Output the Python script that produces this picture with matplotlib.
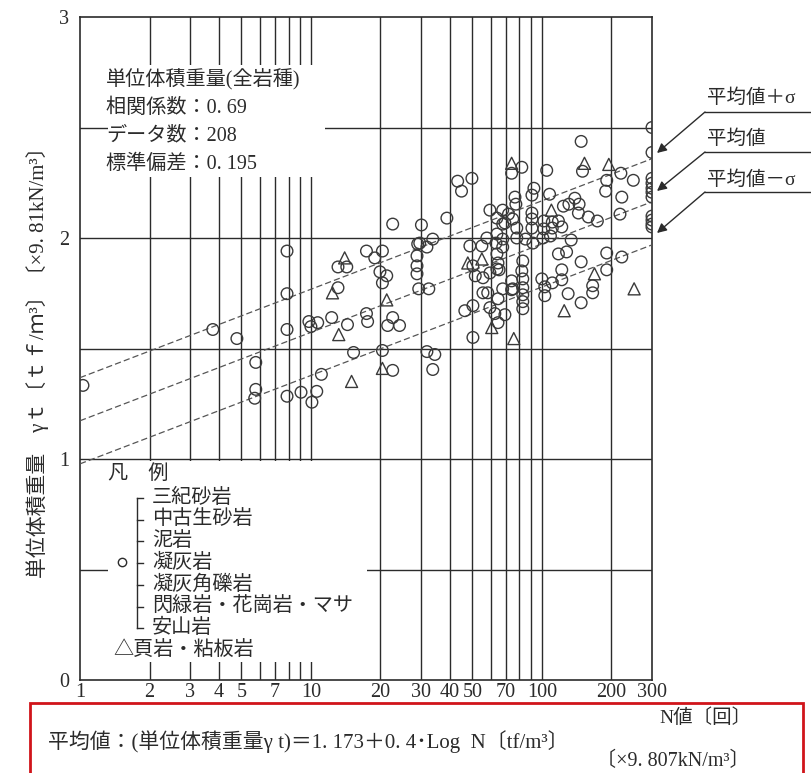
import numpy as np
import matplotlib
matplotlib.use('Agg')
import matplotlib.pyplot as plt
from matplotlib.lines import Line2D
from matplotlib.patches import Rectangle
from matplotlib.ticker import NullLocator

plt.rcParams['font.family'] = ['Liberation Serif', 'Noto Sans CJK JP']

# ---- data -------------------------------------------------------------------
circle_n = [1.03, 3.76, 4.78, 5.77, 5.77, 5.71, 7.88, 7.88, 7.88, 7.88,
            9.06, 10.1, 10.6, 11.1, 9.8, 10.0, 10.7, 12.3, 14.4, 13.1,
            14.3, 13.1, 15.3, 17.4, 18.9, 20.4, 19.9, 21.3, 20.4, 17.4,
            17.6, 22.6, 21.5, 24.2, 20.4, 22.6, 22.6, 30.1, 38.8, 43.2,
            44.9, 49.8, 29.0, 31.8, 33.7, 28.8, 28.8, 28.8, 29.3, 32.4,
            31.8, 34.4, 33.7, 46.4, 50.3, 29.6,
            300, 148, 300, 74.0, 81.9, 150, 105, 220, 249, 191,
            189, 222, 218, 300, 300, 300, 300, 300, 300, 300,
            300, 300, 92.4, 90.6, 108, 76.5, 77.2, 59.6, 67.7, 71.7,
            63.9, 67.7, 74.8, 77.9, 90.6, 90.6, 90.6, 102, 111, 118,
            124, 131, 139, 145, 144, 159, 174, 122, 102, 111,
            57.8, 63.9, 67.7, 77.9, 85.0, 91.5, 101, 109, 134, 69.2,
            48.8, 55.0, 63.3, 67.7, 63.9, 64.6, 63.9, 50.3, 51.5, 55.6,
            59.6, 82.7, 81.9, 82.7, 74.0, 74.8, 67.7, 82.7, 82.7, 82.7,
            82.7, 100, 103, 111, 103, 118, 128, 148, 191, 222,
            122, 122, 191, 166, 166, 130, 148, 55.6, 58.3, 59.6,
            64.6, 62.6, 69.2, 64.6, 50.3, 74.0, 65.3]
circle_y = [1.333, 1.586, 1.545, 1.437, 1.315, 1.275, 1.941, 1.748, 1.586, 1.284,
            1.302, 1.257, 1.306, 1.383, 1.622, 1.599, 1.617, 1.640, 1.608, 1.869,
            1.869, 1.775, 1.482, 1.941, 1.910, 1.941, 1.847, 1.829, 1.797, 1.658,
            1.622, 1.640, 1.604, 1.604, 1.491, 1.401, 2.063, 2.059, 2.090, 2.257,
            2.212, 2.270, 1.973, 1.959, 1.995, 1.919, 1.874, 1.838, 1.770, 1.770,
            1.486, 1.473, 1.405, 1.671, 1.694, 1.977,
            2.500, 2.437, 2.387, 2.293, 2.320, 2.302, 2.306, 2.293, 2.261, 2.261,
            2.212, 2.185, 2.108, 2.270, 2.248, 2.225, 2.207, 2.185, 2.099, 2.081,
            2.063, 2.050, 2.225, 2.194, 2.198, 2.185, 2.153, 2.126, 2.126, 2.108,
            2.090, 2.063, 2.086, 2.045, 2.113, 2.086, 2.045, 2.077, 2.072, 2.077,
            2.144, 2.153, 2.180, 2.153, 2.113, 2.095, 2.077, 2.050, 2.041, 2.045,
            2.000, 2.018, 1.995, 2.000, 1.995, 1.977, 2.000, 2.009, 1.991, 2.068,
            1.964, 1.964, 1.977, 1.959, 1.928, 1.887, 1.860, 1.874, 1.829, 1.820,
            1.842, 1.896, 1.851, 1.815, 1.806, 1.770, 1.770, 1.775, 1.743, 1.712,
            1.680, 1.815, 1.779, 1.797, 1.739, 1.928, 1.937, 1.892, 1.932, 1.914,
            1.856, 1.811, 1.856, 1.784, 1.752, 1.748, 1.707, 1.752, 1.752, 1.685,
            1.725, 1.658, 1.653, 1.617, 1.550, 1.766, 1.856]

tri_n = [13.2, 14.0, 12.4, 21.3, 20.4, 15.0, 47.8, 55.0, 74.0, 153,
         195, 110, 60.7, 75.6, 125, 169, 251]
tri_y = [1.563, 1.910, 1.752, 1.720, 1.410, 1.351, 1.887, 1.905, 2.338, 2.338,
         2.333, 2.126, 1.595, 1.545, 1.671, 1.838, 1.770]

# regression  y = 1.173 + 0.4 log N, sigma = 0.195
a, b, sigma = 1.173, 0.4, 0.195
n_line = np.array([1, 300])

grid_x = [2, 3, 4, 5, 6, 7, 8, 9, 10, 20, 30, 40, 50, 60, 70, 80, 90, 100, 200]
grid_y = [0.5, 1, 1.5, 2, 2.5]
xtick_vals = [1, 2, 3, 4, 5, 7, 10, 20, 30, 40, 50, 70, 100, 200, 300]
xtick_labels = ['1', '2', '3', '4', '5', '7', '10', '20', '30', '40', '50',
                '70', '100', '200', '300']
ytick_vals = [0, 1, 2, 3]

stats_lines = ['単位体積重量(全岩種)', '相関係数：0. 69', 'データ数：208', '標準偏差：0. 195']
rock_circle = ['三紀砂岩', '中古生砂岩', '泥岩', '凝灰岩', '凝灰角礫岩',
               '閃緑岩・花崗岩・マサ', '安山岩']
rock_tri = '△頁岩・粘板岩'

# ---- figure -------------------------------------------------------------------
W, H = 811, 773
fig = plt.figure(figsize=(W / 100, H / 100), dpi=100)
ax = fig.add_axes([80 / W, 1 - 680 / H, 572 / W, 663 / H])


def fxy(px, py):
    return (px / W, 1 - py / H)


ink = '#2b2b2b'
ax.set_xscale('log')
ax.set_xlim(1, 300)
ax.set_ylim(0, 3)
for gx in grid_x:
    ax.axvline(gx, color=ink, lw=1.0, zorder=1)
for gy in grid_y:
    ax.axhline(gy, color=ink, lw=1.0, zorder=1)
for s in ax.spines.values():
    s.set_color(ink)
    s.set_linewidth(1.2)

ax.set_xticks(xtick_vals)
ax.set_xticklabels(xtick_labels)
ax.xaxis.set_minor_locator(NullLocator())
ax.set_yticks(ytick_vals)
ax.tick_params(length=0, labelsize=14.5, colors=ink)
ax.tick_params(axis='y', pad=8)
ax.tick_params(axis='x', pad=2)

# white panels that cut the grid behind the text blocks
ax.add_patch(Rectangle((0.049, 0.759), 0.379, 0.169, transform=ax.transAxes,
                       facecolor='white', edgecolor='none', zorder=2))
ax.add_patch(Rectangle((0.049, 0.027), 0.453, 0.304, transform=ax.transAxes,
                       facecolor='white', edgecolor='none', zorder=2))

# regression lines
for k in (1, 0, -1):
    ax.plot(n_line, a + k * sigma + b * np.log10(n_line), color='#555555',
            lw=0.9, ls=(0, (5, 2.5)), zorder=3)

ax.scatter(circle_n, circle_y, s=70, facecolors='none', edgecolors='#3a3a3a',
           linewidths=1.0, zorder=4)
ax.scatter(tri_n, tri_y, s=75, marker='^', facecolors='none', edgecolors='#3a3a3a',
           linewidths=1.0, zorder=4)

# stats block
for i, t in enumerate(stats_lines):
    fig.text(*fxy(106, 80 + i * 28), t, fontsize=14.5, color=ink, va='center', ha='left')

# legend block
fig.text(*fxy(108, 474), '凡　例', fontsize=14.5, color=ink, va='center')
for i, t in enumerate(rock_circle):
    fig.text(*fxy(152, 498 + i * 21.7), t, fontsize=14.5, color=ink, va='center')
    fig.add_artist(Line2D([137 / W, 143 / W], [1 - (498 + i * 21.7) / H] * 2,
                          color=ink, lw=1.0))
fig.add_artist(Line2D([137 / W, 137 / W], [1 - 498 / H, 1 - 628 / H], color=ink, lw=1.0))
fig.add_artist(Line2D([122 / W], [1 - 562 / H], marker='o', ms=6, mfc='none',
                      mec=ink, mew=1.0, ls='none'))
fig.text(*fxy(113, 650), rock_tri, fontsize=14.5, color=ink, va='center')

# y label
fig.text(*fxy(38, 357), '単位体積重量　γｔ〔ｔｆ/ｍ³〕〔×9. 81kN/m³〕', rotation=90,
         fontsize=15, color=ink, va='center', ha='center')

# arrow labels at right
labels_r = ['平均値＋σ', '平均値', '平均値－σ']
ys_txt = [98, 139, 180]
ys_line = [112, 152, 192]
tips = [153, 191, 233]
for t, yt, yl, tip in zip(labels_r, ys_txt, ys_line, tips):
    fig.text(*fxy(707, yt), t, fontsize=14, color=ink, va='center')
    fig.add_artist(Line2D([705 / W, 1.0], [1 - yl / H] * 2, color=ink, lw=1.0))
    ax.annotate('', xy=fxy(657, tip), xycoords='figure fraction',
                xytext=fxy(705, yl), textcoords='figure fraction',
                arrowprops=dict(arrowstyle='-|>', color=ink, lw=1.0,
                                mutation_scale=14, shrinkA=0, shrinkB=0))

# formula box
fig.add_artist(Rectangle(fxy(30, 790), 773 / W, 87 / H, transform=fig.transFigure,
                         facecolor='none', edgecolor='#d0141a', lw=2.0))
fig.text(*fxy(752, 718), 'N値〔回〕', fontsize=14, color=ink, va='center', ha='right')
fig.text(*fxy(48, 742), '平均値：(単位体積重量γ t)＝1. 173＋0. 4･Log  N〔tf/m³〕',
         fontsize=15, color=ink, va='center')
fig.text(*fxy(750, 761), '〔×9. 807kN/m³〕', fontsize=14.5, color=ink, va='center',
         ha='right')

fig.savefig('out.png', dpi=100)
